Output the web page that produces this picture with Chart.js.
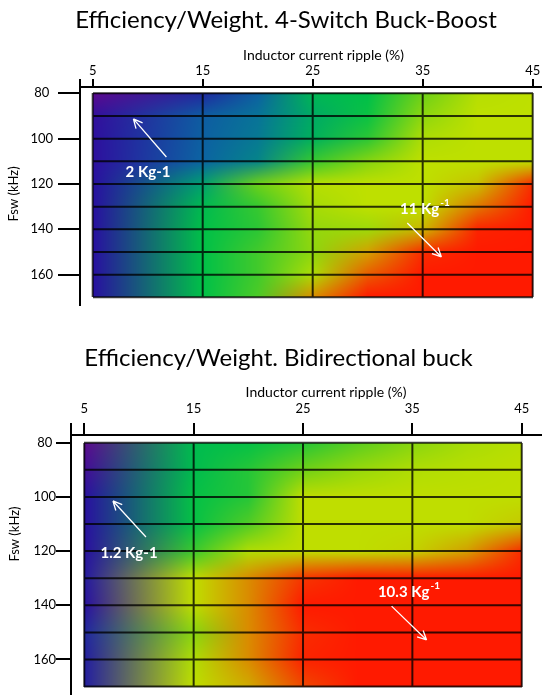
<!DOCTYPE html>
<html>
<head>
<meta charset="utf-8">
<script src="https://cdn.jsdelivr.net/npm/chart.js@4.4.1/dist/chart.umd.min.js"></script>
<style>
  html, body { margin: 0; padding: 0; background: #fff; overflow: hidden; width: 542px; height: 695px; }
  canvas { position: absolute; }
  #c1 { left: 5px; top: 0; }
  #c2 { left: -24px; top: 330px; }
</style>
</head>
<body>
<canvas id="c1" width="562" height="306"></canvas>
<canvas id="c2" width="605" height="365"></canvas>
<script>
// sample points of the maps
const ripple = [5, 15, 20, 25, 30, 35, 40, 45];          // %
const fsw = [80, 90, 100, 110, 120, 130, 140, 150, 160, 170]; // kHz
const rippleTicks = [5, 15, 25, 35, 45];
const fswTicks = [80, 100, 120, 140, 160];

// efficiency/weight (Kg-1), one row per fsw value
const buckBoost = [
  [2.0, 3.5, 4.8, 6.7, 7.0, 8.0, 8.9, 9.0],
  [2.8, 4.7, 5.2, 6.3, 7.1, 8.4, 9.0, 9.0],
  [2.9, 4.8, 5.3, 6.5, 7.4, 8.8, 9.0, 9.0],
  [2.9, 4.9, 5.5, 7.5, 8.3, 9.0, 9.0, 9.0],
  [3.0, 6.0, 8.0, 8.9, 9.0, 9.0, 9.3, 10.8],
  [3.0, 6.8, 7.5, 8.7, 9.0, 9.0, 10.0, 11.0],
  [3.0, 7.0, 7.4, 8.5, 8.6, 9.4, 10.9, 11.0],
  [3.0, 7.0, 7.6, 8.4, 9.6, 10.8, 11.0, 11.0],
  [3.0, 7.0, 7.6, 8.8, 10.3, 11.0, 11.0, 11.0],
  [3.0, 7.0, 7.7, 9.8, 11.0, 11.0, 11.0, 11.0]
];
const bidirBuck = [
  [1.2, 6.1, 6.3, 6.6, 7.1, 7.6, 8.0, 8.2],
  [1.7, 6.1, 6.6, 7.3, 7.8, 8.1, 8.2, 8.3],
  [2.2, 6.3, 6.6, 8.3, 8.3, 8.3, 8.3, 8.3],
  [2.2, 6.3, 7.0, 8.3, 8.3, 8.3, 8.3, 8.5],
  [2.2, 6.8, 8.1, 8.3, 8.3, 8.4, 8.9, 10.1],
  [2.4, 8.3, 9.1, 10.0, 10.3, 10.3, 10.3, 10.3],
  [2.2, 8.3, 9.1, 10.3, 10.3, 10.3, 10.3, 10.3],
  [2.7, 7.6, 9.1, 10.1, 10.3, 10.3, 10.3, 10.3],
  [2.5, 8.1, 9.1, 10.2, 10.3, 10.3, 10.3, 10.3],
  [2.5, 8.3, 8.8, 9.8, 10.3, 10.3, 10.3, 10.3]
];

const FONT = 'Lato, "Open Sans", sans-serif';
const stops = ['#5c0a8e', '#2810a0', '#1840a0', '#0a68a2', '#00a070',
               '#00c048', '#6cd018', '#bee000', '#e07800', '#ff1a00'];
const stopRgb = stops.map(h => [1, 3, 5].map(i => parseInt(h.substr(i, 2), 16)));

function colourFor(t) {
  t = Math.max(0, Math.min(1, t)) * (stopRgb.length - 1);
  const k = Math.min(Math.floor(t), stopRgb.length - 2), f = t - k;
  return stopRgb[k].map((c, i) => c + (stopRgb[k + 1][i] - c) * f);
}

function seg(arr, v) {
  let i = 0;
  while (i < arr.length - 2 && v > arr[i + 1]) i++;
  const f = Math.max(0, Math.min(1, (v - arr[i]) / (arr[i + 1] - arr[i])));
  return [i, f];
}

const heatPlugin = {
  id: 'heat',
  beforeDatasetsDraw(chart, args, o) {
    const ctx = chart.ctx, sx = chart.scales.x, sy = chart.scales.y;
    const node = o.values.map(r => r.map(v => colourFor((v - o.min) / (o.max - o.min))));
    const x0 = Math.round(sx.getPixelForValue(ripple[0]));
    const x1 = Math.round(sx.getPixelForValue(ripple[ripple.length - 1]));
    const y0 = Math.round(sy.getPixelForValue(fsw[0]));
    const y1 = Math.round(sy.getPixelForValue(fsw[fsw.length - 1]));
    const w = x1 - x0, h = y1 - y0;
    const img = ctx.createImageData(w, h);
    const colIdx = [];
    for (let i = 0; i < w; i++) colIdx.push(seg(ripple, sx.getValueForPixel(x0 + i + 0.5)));
    for (let j = 0; j < h; j++) {
      const [r, fy] = seg(fsw, sy.getValueForPixel(y0 + j + 0.5));
      for (let i = 0; i < w; i++) {
        const [c, fx] = colIdx[i];
        const a = node[r][c], b = node[r][c + 1], d = node[r + 1][c], e = node[r + 1][c + 1];
        const p = (j * w + i) * 4;
        for (let k = 0; k < 3; k++) {
          const top = a[k] + (b[k] - a[k]) * fx;
          const bot = d[k] + (e[k] - d[k]) * fx;
          img.data[p + k] = top + (bot - top) * fy;
        }
        img.data[p + 3] = 255;
      }
    }
    ctx.putImageData(img, x0, y0);

    ctx.save();
    ctx.strokeStyle = 'rgba(0,0,0,0.78)';
    ctx.lineWidth = 2;
    ctx.beginPath();
    fsw.forEach(v => {
      const y = sy.getPixelForValue(v);
      ctx.moveTo(x0, y); ctx.lineTo(x1, y);
    });
    rippleTicks.forEach(v => {
      const x = sx.getPixelForValue(v);
      ctx.moveTo(x, y0); ctx.lineTo(x, y1);
    });
    ctx.stroke();
    ctx.restore();
  },
  afterDraw(chart, args, o) {
    const ctx = chart.ctx, sx = chart.scales.x, sy = chart.scales.y, area = chart.chartArea;
    ctx.save();
    // y axis line runs a little above the x axis
    ctx.strokeStyle = '#000';
    ctx.lineWidth = 2;
    ctx.beginPath();
    ctx.moveTo(area.left, area.top - o.axisOver);
    ctx.lineTo(area.left, area.top);
    ctx.stroke();

    // y axis title
    ctx.save();
    ctx.translate(area.left + o.yTitle.dx, sy.getPixelForValue(o.yTitle.at));
    ctx.rotate(-Math.PI / 2);
    ctx.fillStyle = '#000';
    ctx.font = '13px ' + FONT;
    ctx.textAlign = 'center';
    ctx.textBaseline = 'middle';
    ctx.fillText('Fsw (kHz)', 0, 0);
    ctx.restore();

    ctx.fillStyle = '#fff';
    ctx.strokeStyle = '#fff';
    ctx.textBaseline = 'middle';
    o.notes.forEach(n => {
      const x = sx.getPixelForValue(n.x), y = sy.getPixelForValue(n.y);
      ctx.font = 'bold 15px ' + FONT;
      if (n.sup) {
        ctx.textAlign = 'left';
        ctx.fillText(n.text, x, y);
        const tw = ctx.measureText(n.text).width;
        ctx.font = 'bold 10px ' + FONT;
        ctx.fillText(n.sup, x + tw + 1, y - 6);
      } else {
        ctx.textAlign = 'center';
        ctx.fillText(n.text, x, y);
      }
      const ax = sx.getPixelForValue(n.from[0]), ay = sy.getPixelForValue(n.from[1]);
      const bx = sx.getPixelForValue(n.to[0]), by = sy.getPixelForValue(n.to[1]);
      const ang = Math.atan2(by - ay, bx - ax);
      ctx.lineWidth = 1.3;
      ctx.beginPath();
      ctx.moveTo(ax, ay); ctx.lineTo(bx, by);
      [-0.45, 0.45].forEach(d => {
        ctx.moveTo(bx, by);
        ctx.lineTo(bx - 10 * Math.cos(ang + d), by - 10 * Math.sin(ang + d));
      });
      ctx.stroke();
    });
    ctx.restore();
  }
};

function nodes(values) {
  const pts = [];
  fsw.forEach((f, r) => ripple.forEach((x, c) => pts.push({ x: x, y: f, v: values[r][c] })));
  return pts;
}

function makeChart(id, cfg) {
  return new Chart(document.getElementById(id), {
    type: 'scatter',
    data: { datasets: [{ data: nodes(cfg.values), pointRadius: 0, pointHoverRadius: 0 }] },
    options: {
      responsive: false,
      animation: false,
      devicePixelRatio: 1,
      layout: { padding: 0 },
      events: [],
      plugins: {
        legend: { display: false },
        tooltip: { enabled: false },
        title: {
          display: true,
          text: cfg.title,
          color: '#000',
          font: { family: FONT, size: 24, weight: 'normal' },
          padding: { top: cfg.titlePad, bottom: 0 }
        },
        heat: cfg.heat
      },
      scales: {
        x: {
          type: 'linear',
          position: 'top',
          min: cfg.xMin, max: cfg.xMax,
          afterBuildTicks: s => { s.ticks = rippleTicks.map(v => ({ value: v })); },
          afterFit: s => { s.height = cfg.xHeight; s.paddingLeft = 0; s.paddingRight = 0; },
          grid: { drawOnChartArea: false, drawTicks: true, tickLength: cfg.xTick, color: '#000', lineWidth: 2 },
          border: { display: true, color: '#000', width: 2 },
          ticks: { padding: cfg.xTickPad, color: '#000', maxRotation: 0, autoSkip: false,
                   font: { family: FONT, size: 13 } },
          title: { display: true, text: 'Inductor current ripple (%)', color: '#000',
                   font: { family: FONT, size: 14 }, padding: { top: cfg.xTitlePad, bottom: 0 } }
        },
        y: {
          type: 'linear',
          reverse: true,
          min: cfg.yMin, max: cfg.yMax,
          afterBuildTicks: s => { s.ticks = fswTicks.map(v => ({ value: v })); },
          afterFit: s => { s.width = cfg.yWidth; s.paddingTop = 0; s.paddingBottom = 0; },
          grid: { drawOnChartArea: false, drawTicks: true, tickLength: cfg.yTick, color: '#000', lineWidth: 2 },
          border: { display: true, color: '#000', width: 2 },
          ticks: { padding: cfg.yTickPad, crossAlign: 'center', color: '#000',
                   font: { family: FONT, size: 13 } }
        }
      }
    },
    plugins: [heatPlugin]
  });
}

makeChart('c1', {
  title: 'Efficiency/Weight. 4-Switch Buck-Boost',
  values: buckBoost,
  titlePad: 5.6, xHeight: 52.6, xTitlePad: 12.2, xTick: 8, xTickPad: 0,
  xMin: 3.845, xMax: 48.12, yMin: 77.22, yMax: 173.84,
  yWidth: 75, yTick: 22, yTickPad: 5,
  heat: {
    values: buckBoost, min: 2, max: 11, axisOver: 8,
    yTitle: { dx: -66, at: 124.4 },
    notes: [
      { text: '2 Kg-1', x: 10.03, y: 114.7, from: [11.7, 108.1], to: [8.7, 91.3] },
      { text: '11 Kg', sup: '-1', x: 32.94, y: 131.0, from: [33.6, 137.2], to: [36.7, 152.2] }
    ]
  }
});

makeChart('c2', {
  title: 'Efficiency/Weight. Bidirectional buck',
  values: bidirBuck,
  titlePad: 13.6, xHeight: 62.6, xTitlePad: 11.2, xTick: 12, xTickPad: 6.2,
  xMin: 3.784, xMax: 50.42, yMin: 77.16, yMax: 173.1,
  yWidth: 95, yTick: 15, yTickPad: 0,
  heat: {
    values: bidirBuck, min: 1.2, max: 10.3, axisOver: 12,
    yTitle: { dx: -56, at: 113.7 },
    notes: [
      { text: '1.2 Kg-1', x: 9.09, y: 120.7, from: [10.64, 114.8], to: [7.62, 101.5] },
      { text: '10.3 Kg', sup: '-1', x: 31.85, y: 135.1, from: [33.1, 140.3], to: [36.3, 152.8] }
    ]
  }
});
</script>
</body>
</html>
